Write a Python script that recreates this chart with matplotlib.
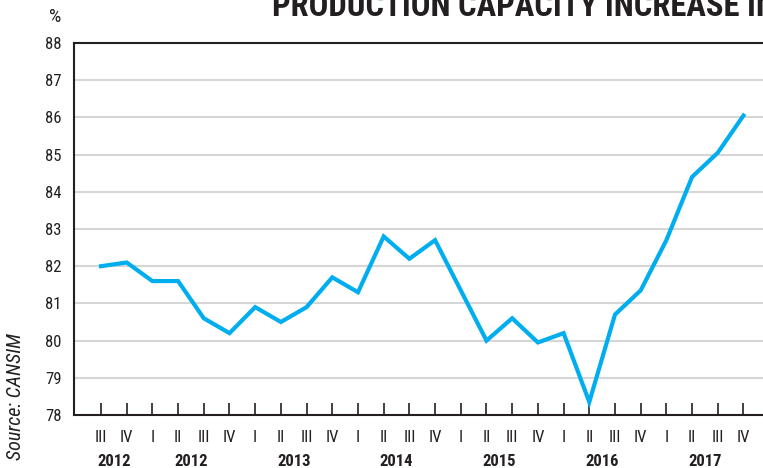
import matplotlib
matplotlib.use("Agg")
import matplotlib.pyplot as plt
import matplotlib.transforms as mtransforms
from matplotlib import font_manager

# data
quarters = ['III', 'IV',
            'I', 'II', 'III', 'IV',
            'I', 'II', 'III', 'IV',
            'I', 'II', 'III', 'IV',
            'I', 'II', 'III', 'IV',
            'I', 'II', 'III', 'IV',
            'I', 'II', 'III', 'IV']
years = ['2012', '2012', '2013', '2014', '2015', '2016', '2017']
year_pos = [0.5, 3.5, 7.5, 11.5, 15.5, 19.5, 23.5]
capacity = [82.0, 82.1, 81.6, 81.6, 80.6, 80.2, 80.9, 80.5, 80.9, 81.7,
            81.3, 82.8, 82.2, 82.7, 81.35, 80.0, 80.6, 79.95, 80.2, 78.35,
            80.7, 81.35, 82.7, 84.4, 85.05, 86.05]

# pick a narrow face if one is around
names = {f.name for f in font_manager.fontManager.ttflist}
narrow = 'DejaVu Sans'
for cand in ['Liberation Sans Narrow', 'Roboto Condensed', 'DejaVu Sans Condensed',
             'Open Sans Condensed', 'Liberation Sans']:
    if cand in names:
        narrow = cand
        break
plt.rcParams['font.family'] = [narrow, 'DejaVu Sans']
ink = '#231f20'

fig = plt.figure(figsize=(7.63, 4.68), dpi=100)
# axes runs past the right edge, as in the cropped original
ax = fig.add_axes([74 / 763, 53 / 468, 716 / 763, 372 / 468])

x = list(range(len(capacity)))
ax.plot(x, capacity, color='#00aeef', linewidth=3, solid_joinstyle='miter', zorder=3)

ax.set_xlim(-1.05, -1.05 + 716 / 25.7)
ax.set_ylim(78, 88)
ax.set_yticks(range(78, 89))
ax.tick_params(axis='y', length=0, pad=9, labelsize=12, labelcolor=ink)
for v in range(79, 88):
    ax.axhline(v, color='#d6d6d6', linewidth=1.5, zorder=1)

ax.set_xticks(x)
ax.set_xticklabels([])
ax.tick_params(axis='x', direction='in', length=9, width=1.2, color=ink)

trans = mtransforms.blended_transform_factory(ax.transData, fig.transFigure)
for pos, q in zip(x, quarters):
    ax.text(pos, 1 - 438 / 468, q, transform=trans, ha='center', va='center',
            fontsize=12, color=ink)
for pos, yr in zip(year_pos, years):
    ax.text(pos, 1 - 461 / 468, yr, transform=trans, ha='center', va='center',
            fontsize=12, fontweight='bold', color=ink)

for side in ['left', 'bottom', 'top']:
    ax.spines[side].set_color(ink)
    ax.spines[side].set_linewidth(1.5)
ax.spines['right'].set_visible(False)

fig.text(55 / 763, 1 - 17 / 468, '%', ha='center', va='center', fontsize=14,
         color=ink)
# title is cut off at the top and right, like the source image
fig.text(272 / 763, 1 - 16 / 468, 'PRODUCTION CAPACITY INCREASE IN', ha='left',
         va='baseline', fontsize=23.5, fontweight='bold', color=ink)
fig.text(16 / 763, 1 - 397 / 468, 'Source: CANSIM', rotation=90, ha='center',
         va='center', fontsize=14.5, style='italic', color=ink)

fig.savefig('out.png', dpi=100)
